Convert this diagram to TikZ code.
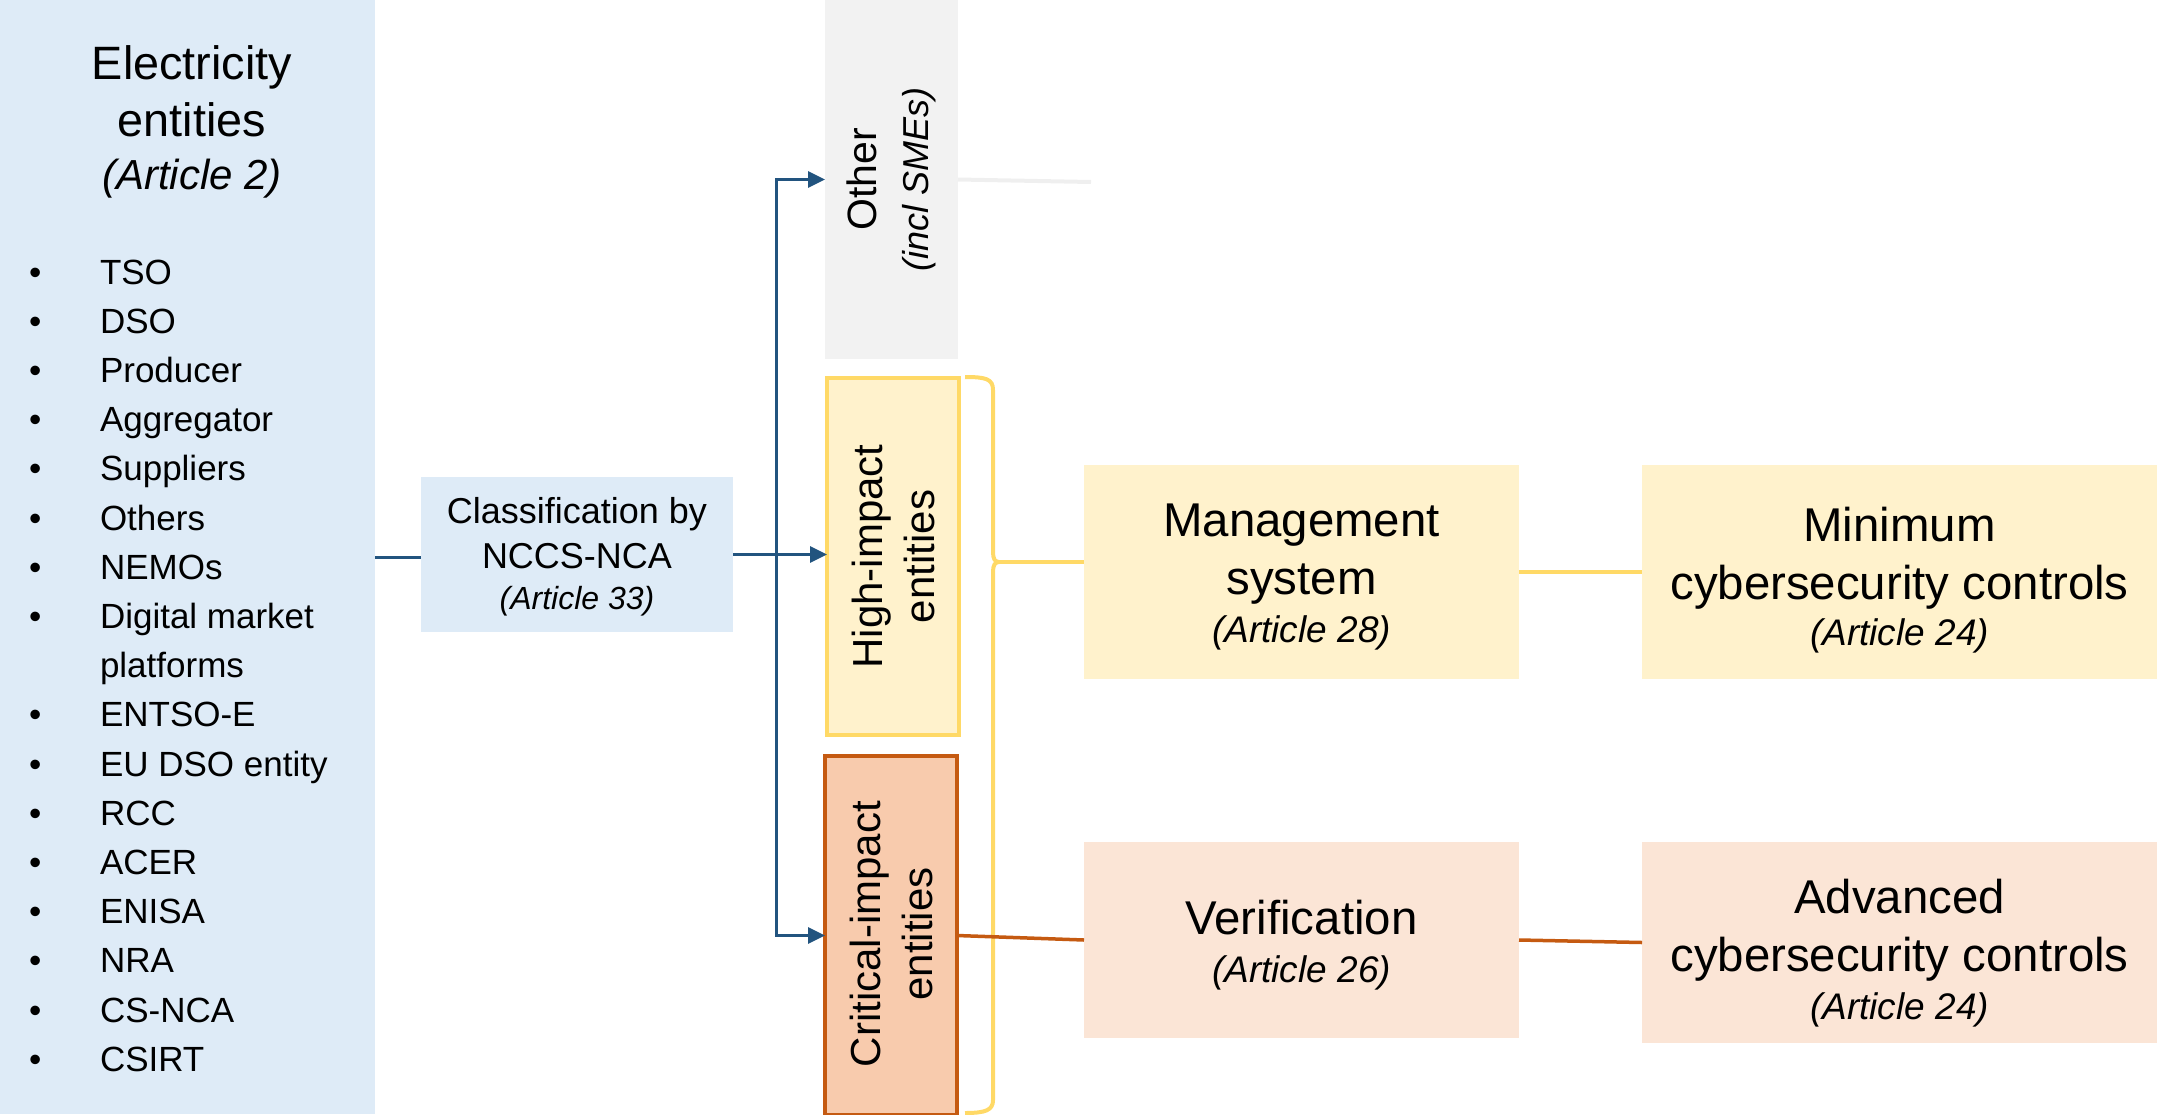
\documentclass[tikz,border=0pt]{standalone}
\usepackage{fontspec}
\setmainfont{Liberation Sans}
\usetikzlibrary{arrows.meta}
\definecolor{entblue}{HTML}{DEEBF7}
\definecolor{lnblue}{HTML}{22547F}
\definecolor{othgray}{HTML}{F2F2F2}
\definecolor{othline}{HTML}{EFEFEF}
\definecolor{ylfill}{HTML}{FFF2CC}
\definecolor{ylline}{HTML}{FFD966}
\definecolor{orfill}{HTML}{F8CBAD}
\definecolor{orline}{HTML}{C55A11}
\definecolor{orlight}{HTML}{FBE5D6}
\newcommand\myfs[2]{\fontsize{#1}{#2}\selectfont}
\begin{document}
\begin{tikzpicture}[x=0.5pt,y=-0.5pt,
  every node/.style={inner sep=0pt,outer sep=0pt},
  plainbox/.style={rectangle,draw=none},
  item/.style={font=\myfs{17.5}{21}},
  bl/.style={draw=lnblue,line width=1.5pt},
  arr/.style={-{Triangle[length=8.5pt,width=8pt]}},
  yl/.style={draw=ylline,line width=2pt},
  orl/.style={draw=orline,line width=1.75pt},
  bigtxt/.style={align=center,font=\myfs{23.7}{29}},
  rottxt/.style={rotate=90,align=center,font=\myfs{21}{26}}]
\useasboundingbox (0,0) rectangle (2157,1114);

% left box
\node[plainbox,fill=entblue,minimum width=187.5pt,minimum height=557pt] (ent) at (187.5,557) {};
\node[align=center,font=\myfs{23.4}{28.5},anchor=north] (ttl) at (192,46)
  {Electricity\\entities\\[-2pt]{\myfs{21}{26}\itshape (Article 2)}};
\foreach \t/\b [count=\i] in {TSO/1,DSO/1,Producer/1,Aggregator/1,Suppliers/1,Others/1,NEMOs/1,Digital market/1,platforms/0,ENTSO-E/1,EU DSO entity/1,RCC/1,ACER/1,ENISA/1,NRA/1,CS-NCA/1,CSIRT/1}{
  \node[item,anchor=base west] (it\i) at (100,{284+49.2*(\i-1)}) {\t};
  \ifnum\b=1 \node[item,anchor=base west] (bu\i) at (29,{284+49.2*(\i-1)}) {\textbullet}; \fi
}

% classification
\node[plainbox,fill=entblue,minimum width=156pt,minimum height=77.5pt,align=center,font=\myfs{18}{22.5}] (cls) at (577,554.5)
  {\rule{0pt}{15pt}Classification by\\NCCS-NCA\\[-2pt]{\myfs{16}{20}\itshape (Article 33)}};

% category boxes
\node[plainbox,fill=othgray,minimum width=66.5pt,minimum height=179.5pt] (oth) at (891.5,179.5) {};
\node[rotate=90,align=center,font=\myfs{20.5}{26}] (othtxt) at (oth.center) {Other\\{\myfs{18}{22}\itshape (incl SMEs)}};

\node[rectangle,draw=ylline,line width=2pt,fill=ylfill,minimum width=66pt,minimum height=178.5pt] (hi) at (893,556.5) {};
\node[rottxt] (hitxt) at (hi.center) {High-impact\\entities};

\node[rectangle,draw=orline,line width=2pt,fill=orfill,minimum width=66pt,minimum height=179.5pt] (crit) at (891,935.5) {};
\node[rottxt] (crittxt) at (891,934) {Critical-impact\\entities};

% requirement boxes
\node[plainbox,fill=ylfill,minimum width=217.5pt,minimum height=107pt,bigtxt] (mg) at (1301.5,572)
  {\rule{0pt}{21pt}Management\\system\\[-5pt]{\myfs{18.5}{23}\itshape (Article 28)}};
\node[plainbox,fill=ylfill,minimum width=257.5pt,minimum height=107pt,bigtxt] (mn) at (1899.5,572)
  {\rule{0pt}{25pt}Minimum\\cybersecurity controls\\[-6pt]{\myfs{18.5}{23}\itshape (Article 24)}};
\node[plainbox,fill=orlight,minimum width=217.5pt,minimum height=98pt,bigtxt] (ver) at (1301.5,940)
  {\rule{0pt}{22pt}Verification\\[-5pt]{\myfs{18.5}{23}\itshape (Article 26)}};
\node[plainbox,fill=orlight,minimum width=257.5pt,minimum height=100.5pt,bigtxt] (adv) at (1899.5,942.5)
  {\rule{0pt}{28pt}Advanced\\cybersecurity controls\\[-5pt]{\myfs{18.5}{23}\itshape (Article 24)}};

% blue connectors
\coordinate (split) at (776,557);
\draw[bl] (ent.east) -- (ent.east -| cls.west);
\draw[bl,arr] (cls.east) -- (cls.east -| hi.west);
\draw[bl,arr] (split) |- (oth.west);
\draw[bl,arr] (split) |- (crit.west);

% grey line from Other
\coordinate (othend) at (1091,182);
\draw[draw=othline,line width=2pt] (oth.east) -- (othend);

% brace
\coordinate (brtip) at (999,562);
\draw[yl] (965,377) .. controls (986,377) and (993,379) .. (993,390) -- (993,552)
  .. controls (993,559) and (995,562) .. (brtip)
  .. controls (995,562) and (993,565) .. (993,572) -- (993,1100)
  .. controls (993,1110) and (986,1113) .. (965,1113);
\draw[yl] (brtip) -- (brtip -| mg.west);
\draw[yl] (mg.east) -- (mn.west);

% orange connectors
\draw[orl] (crit.east) -- (ver.west);
\draw[orl] (ver.east) -- (adv.west);
\end{tikzpicture}
\end{document}
